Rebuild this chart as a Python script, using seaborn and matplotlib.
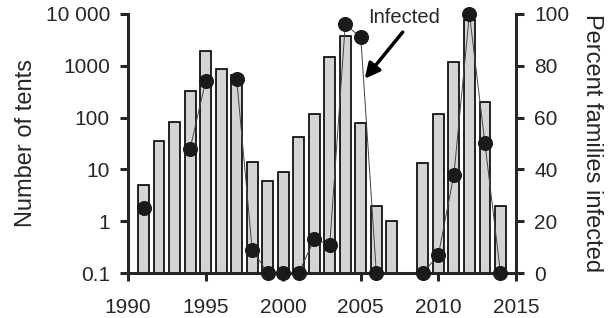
import numpy as np
import pandas as pd
import seaborn as sns
import matplotlib.pyplot as plt

# values
years = list(range(1991, 2015))
tents = [5, 35, 82, 330, 1950, 880, 650, 14, 6, 9, 42, 115, 1480, 3800,
         80, 2, 1, np.nan, 13, 115, 1200, 7700, 200, 2]
pct_infected = [25, np.nan, np.nan, 48, 74, np.nan, 75, 9, 0, 0, 0, 13, 11, 96,
                91, 0, np.nan, np.nan, 0, 7, 38, 100, 50, 0]
x_ticks = [1990, 1995, 2000, 2005, 2010, 2015]
left_ticks = [0.1, 1, 10, 100, 1000, 10000]
left_labels = ['0.1', '1', '10', '100', '1000', '10 000']
right_ticks = [0, 20, 40, 60, 80, 100]

sns.set_style('ticks')
plt.rcParams['font.family'] = ['Liberation Sans', 'DejaVu Sans']

df = pd.DataFrame({'year': years, 'tents': tents, 'pct': pct_infected})
# split the percent series into runs so gaps break the line
df['run'] = df['pct'].isna().cumsum()
pts = df.dropna(subset=['pct'])

fig = plt.figure(figsize=(6.11, 3.18), dpi=100)
ax = fig.add_axes([0.2095, 0.1415, 0.635, 0.8145])
ax.set_yscale('log')
sns.barplot(data=df.dropna(subset=['tents']), x='year', y='tents', native_scale=True,
            width=0.7, color='#d4d4d4', edgecolor='black', linewidth=1.2,
            saturation=1, ax=ax)
ax.set_xlim(1990, 2015)
ax.set_ylim(0.1, 10000)
ax.set_xticks(x_ticks)
ax.set_yticks(left_ticks)
ax.set_yticklabels(left_labels)
ax.minorticks_off()
ax.set_xlabel('')
ax.set_ylabel('Number of tents', fontsize=17, labelpad=6)

ax2 = ax.twinx()
sns.lineplot(data=pts, x='year', y='pct', units='run', estimator=None,
             color='#444444', linewidth=0.7, ax=ax2)
sns.scatterplot(data=pts, x='year', y='pct', color='#1a1a1a', s=100,
                edgecolor='#1a1a1a', zorder=5, clip_on=False, ax=ax2)
ax2.set_ylim(0, 100)
ax2.set_yticks(right_ticks)
ax2.set_ylabel('Percent families infected', fontsize=17, rotation=270, labelpad=24)
ax2.set_xlabel('')

for a in (ax, ax2):
    a.spines['top'].set_visible(False)
    for s in ('left', 'right', 'bottom'):
        a.spines[s].set_linewidth(2.2)
    a.tick_params(axis='both', width=2.2, length=6, labelsize=15, direction='out', pad=7)
ax.tick_params(axis='x', pad=12)
ax.spines['right'].set_visible(False)
ax2.spines['left'].set_visible(False)
ax2.spines['bottom'].set_visible(False)

ax2.text(2007.8, 98.5, 'Infected', fontsize=14.5, ha='center', va='center')
ax2.annotate('', xy=(2005.25, 75), xytext=(2007.7, 93),
             arrowprops=dict(arrowstyle='-|>,head_length=0.9,head_width=0.45',
                             lw=2.5, color='black', shrinkA=0, shrinkB=0))

fig.savefig('out.png', dpi=100)
